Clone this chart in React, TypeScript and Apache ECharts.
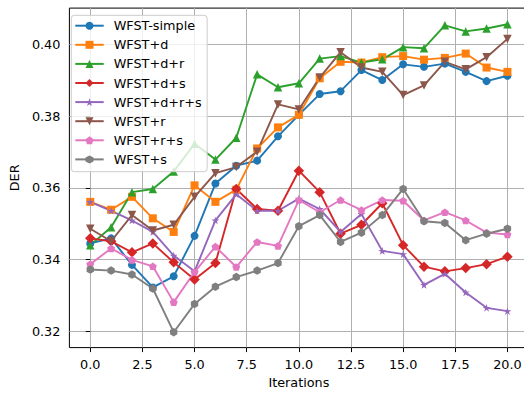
import React, { useEffect, useRef } from "react";
import * as echarts from "echarts";

const iterations = [0, 1, 2, 3, 4, 5, 6, 7, 8, 9, 10, 11, 12, 13, 14, 15, 16, 17, 18, 19, 20];
const xTicks = [0, 2.5, 5, 7.5, 10, 12.5, 15, 17.5, 20];
const yTicks = [0.32, 0.34, 0.36, 0.38, 0.4];

const seriesNames = ["WFST-simple", "WFST+d", "WFST+d+r", "WFST+d+s", "WFST+d+r+s", "WFST+r", "WFST+r+s", "WFST+s"];

const wfstSimple = [0.3445, 0.3459, 0.3385, 0.3322, 0.3353, 0.3466, 0.3612, 0.3662, 0.3676, 0.3744, 0.3804, 0.3862, 0.387, 0.3929, 0.3901, 0.3945, 0.3938, 0.3947, 0.3924, 0.3898, 0.3913];
const wfstD = [0.3561, 0.3539, 0.3575, 0.3515, 0.3477, 0.3607, 0.3561, 0.3595, 0.371, 0.3769, 0.3804, 0.3906, 0.3952, 0.395, 0.3965, 0.3968, 0.3958, 0.3963, 0.3975, 0.3936, 0.3924];
const wfstDR = [0.344, 0.349, 0.3588, 0.3597, 0.3646, 0.3723, 0.3679, 0.374, 0.3917, 0.3881, 0.3892, 0.3961, 0.3968, 0.395, 0.3959, 0.3993, 0.399, 0.4054, 0.4037, 0.4045, 0.4057];
const wfstDS = [0.3459, 0.3451, 0.342, 0.3445, 0.3392, 0.3344, 0.339, 0.3597, 0.3541, 0.3536, 0.3648, 0.3588, 0.3472, 0.3497, 0.3557, 0.344, 0.338, 0.3367, 0.3376, 0.3387, 0.3408];
const wfstDRS = [0.3561, 0.3536, 0.3509, 0.3477, 0.3411, 0.3367, 0.3509, 0.3582, 0.3536, 0.3536, 0.357, 0.3541, 0.3477, 0.3527, 0.3424, 0.3415, 0.3329, 0.336, 0.3308, 0.3265, 0.3256];
const wfstR = [0.3486, 0.3451, 0.3524, 0.3481, 0.3497, 0.3575, 0.3641, 0.3658, 0.3701, 0.3833, 0.3819, 0.3908, 0.3979, 0.3936, 0.3924, 0.3859, 0.3886, 0.3952, 0.3931, 0.3965, 0.4016];
const wfstRS = [0.3387, 0.3431, 0.3399, 0.3381, 0.3281, 0.3365, 0.3436, 0.3379, 0.3449, 0.3438, 0.3566, 0.3532, 0.3566, 0.3538, 0.3566, 0.3564, 0.3509, 0.3532, 0.3509, 0.3475, 0.347];
const wfstS = [0.3372, 0.3369, 0.3358, 0.3319, 0.3197, 0.3276, 0.3324, 0.3351, 0.3369, 0.339, 0.3493, 0.3524, 0.3449, 0.3475, 0.3524, 0.3597, 0.3507, 0.3502, 0.3454, 0.3472, 0.3486];

const seriesValues = [wfstSimple, wfstD, wfstDR, wfstDS, wfstDRS, wfstR, wfstRS, wfstS];
const colors = ["#1f77b4", "#ff7f0e", "#2ca02c", "#d62728", "#9467bd", "#8c564b", "#e377c2", "#7f7f7f"];

const STAR = "path://M0,-1L0.2245,-0.309L0.9511,-0.309L0.3633,0.118L0.5878,0.809L0,0.382L-0.5878,0.809L-0.3633,0.118L-0.9511,-0.309L-0.2245,-0.309Z";
const PENT = "path://M0,-1L0.9511,-0.309L0.5878,0.809L-0.5878,0.809L-0.9511,-0.309Z";
const HEX = "path://M0,-1L0.866,-0.5L0.866,0.5L0,1L-0.866,0.5L-0.866,-0.5Z";

const markers = [
  { symbol: "circle", size: 8, rotate: 0 },
  { symbol: "rect", size: 8, rotate: 0 },
  { symbol: "triangle", size: 8.5, rotate: 0 },
  { symbol: "diamond", size: 10.5, rotate: 0 },
  { symbol: STAR, size: 8, rotate: 0 },
  { symbol: "triangle", size: 8.5, rotate: 180 },
  { symbol: PENT, size: 8, rotate: 0 },
  { symbol: HEX, size: 8.5, rotate: 0 },
];

const FONT = "DejaVu Sans";
const FS = 12.8;

export default function App() {
  const ref = useRef<HTMLDivElement>(null);
  useEffect(() => {
    if (!ref.current) return;
    const chart = echarts.init(ref.current, null, { renderer: "svg" });
    const series = seriesNames.map((name, i) => ({
      name,
      type: "line",
      data: iterations.map((x, j) => [x, seriesValues[i][j]]),
      symbol: markers[i].symbol,
      symbolSize: markers[i].size,
      symbolRotate: markers[i].rotate,
      symbolKeepAspect: true,
      showAllSymbol: true,
      clip: false,
      lineStyle: { color: colors[i], width: 1.9 },
      itemStyle: { color: colors[i], borderWidth: 0 },
      emphasis: { disabled: true },
      z: 2,
    }));
    chart.setOption({
      animation: false,
      textStyle: { fontFamily: FONT },
      grid: {
        left: 64.5,
        top: 8.1,
        width: 463.8,
        height: 346.4,
        show: true,
        borderColor: "#000",
        borderWidth: 1,
        backgroundColor: "transparent",
      },
      legend: {
        data: seriesNames,
        orient: "vertical",
        left: 71.3,
        top: 15.3,
        padding: [2.9, 5.5, 4.8, 3],
        itemWidth: 28.4,
        itemHeight: 10,
        itemGap: 4.1,
        backgroundColor: "rgba(255,255,255,0.8)",
        borderColor: "#cccccc",
        borderWidth: 1,
        borderRadius: 3,
        selectedMode: false,
        textStyle: { fontFamily: FONT, fontSize: FS, color: "#000", lineHeight: 15, padding: [0, 0, 0, 5] },
        z: 10,
      },
      xAxis: {
        type: "value",
        min: -1,
        max: 21,
        minInterval: 2.5,
        maxInterval: 2.5,
        name: "Iterations",
        nameLocation: "middle",
        nameGap: 27,
        nameTextStyle: { fontFamily: FONT, fontSize: FS, color: "#000" },
        axisLine: { show: false },
        axisTick: { show: true, length: 4.5, lineStyle: { color: "#000", width: 1 }, customValues: xTicks },
        axisLabel: {
          show: true,
          margin: 10.5,
          fontFamily: FONT,
          fontSize: FS,
          color: "#000",
          customValues: xTicks,
          formatter: (v: number) => v.toFixed(1),
        },
        splitLine: { show: true, lineStyle: { color: "#b0b0b0", width: 1 } },
      },
      yAxis: {
        type: "value",
        min: 0.3154,
        max: 0.4102,
        minInterval: 0.02,
        maxInterval: 0.02,
        name: "DER",
        nameLocation: "middle",
        nameGap: 43,
        nameTextStyle: { fontFamily: FONT, fontSize: FS, color: "#000" },
        axisLine: { show: false },
        axisTick: { show: true, length: 4.5, lineStyle: { color: "#000", width: 1 }, customValues: yTicks },
        axisLabel: {
          show: true,
          margin: 9,
          fontFamily: FONT,
          fontSize: FS,
          color: "#000",
          customValues: yTicks,
          formatter: (v: number) => v.toFixed(2),
        },
        splitLine: { show: true, lineStyle: { color: "#b0b0b0", width: 1 } },
      },
      series,
    });
    return () => chart.dispose();
  }, []);
  return (
    <div style={{ position: "absolute", left: 0, top: 0, width: 524, height: 394, overflow: "hidden", background: "#fff" }}>
      <div ref={ref} style={{ width: 530, height: 394 }} />
    </div>
  );
}
